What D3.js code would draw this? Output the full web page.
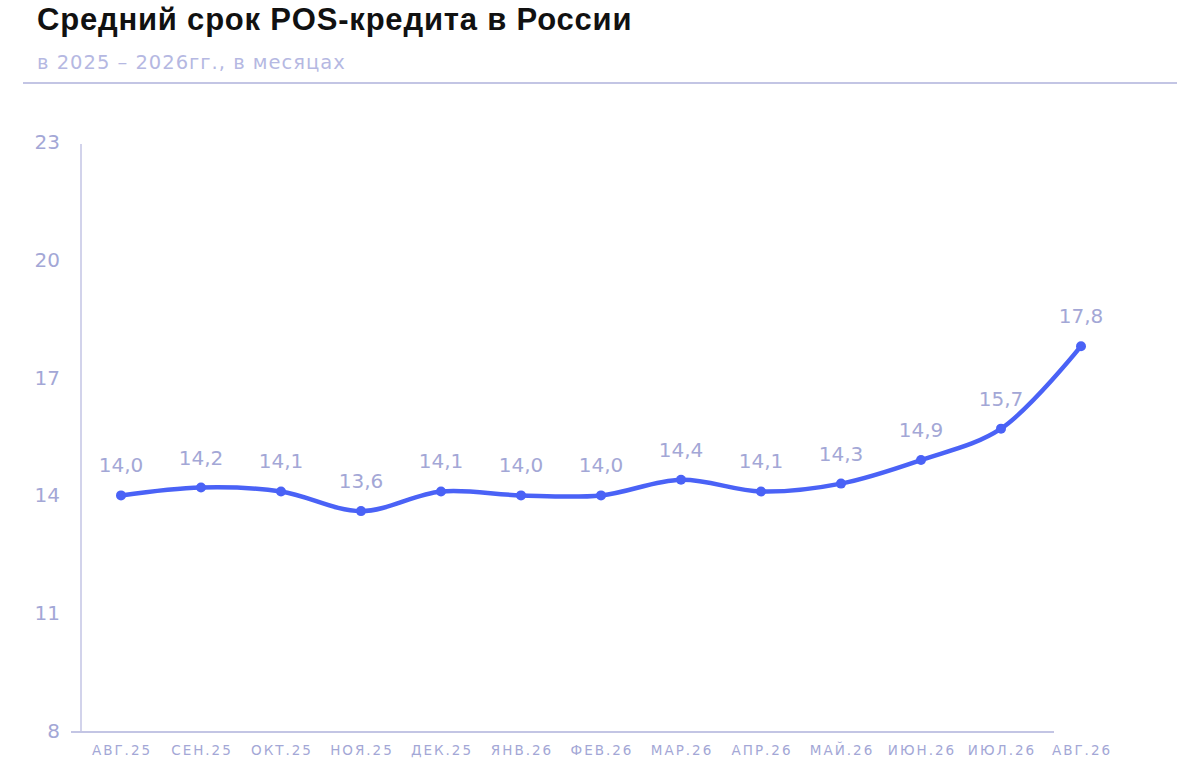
<!DOCTYPE html>
<html>
<head>
<meta charset="utf-8">
<script src="https://cdn.jsdelivr.net/npm/d3@7"></script>
<style>
  body { margin: 0; background: #fff; }
  svg { display: block; }
</style>
</head>
<body>
<script>
const months = ["АВГ.25", "СЕН.25", "ОКТ.25", "НОЯ.25", "ДЕК.25", "ЯНВ.26", "ФЕВ.26",
                "МАР.26", "АПР.26", "МАЙ.26", "ИЮН.26", "ИЮЛ.26", "АВГ.26"];
const termMonths = [14.0, 14.2, 14.1, 13.6, 14.1, 14.0, 14.0, 14.4, 14.1, 14.3, 14.9, 15.7, 17.8];
const yTicks = [8, 11, 14, 17, 20, 23];

const width = 1200, height = 780;
const lav = "#a3a7d6";
const axisCol = "#c3c5e4";
const lineCol = "#4a62f6";
const numFont = "DejaVu Sans, sans-serif";

const svg = d3.select("body").append("svg")
    .attr("width", width)
    .attr("height", height);

// title block
svg.append("text")
    .attr("x", 37).attr("y", 30)
    .attr("font-family", "Liberation Sans, Arial, sans-serif")
    .attr("font-weight", "bold")
    .attr("font-size", 31)
    .attr("letter-spacing", 0.8)
    .attr("fill", "#111")
    .text("Средний срок POS-кредита в России");

svg.append("text")
    .attr("x", 37).attr("y", 69)
    .attr("font-family", numFont)
    .attr("font-size", 19.5)
    .attr("letter-spacing", 1)
    .attr("fill", "#b5b8e2")
    .text("в 2025 – 2026гг., в месяцах");

svg.append("line")
    .attr("x1", 23).attr("x2", 1177)
    .attr("y1", 83).attr("y2", 83)
    .attr("stroke", axisCol)
    .attr("stroke-width", 2);

const x = d3.scalePoint().domain(months).range([121, 1081]);
const y = d3.scaleLinear().domain([8, 23]).range([731, 142]);

// axes lines
svg.append("line")
    .attr("x1", 81).attr("x2", 81)
    .attr("y1", 144).attr("y2", y(8) + 1)
    .attr("stroke", axisCol).attr("stroke-width", 1.5);

svg.append("line")
    .attr("x1", 71).attr("x2", 1054)
    .attr("y1", y(8) + 1).attr("y2", y(8) + 1)
    .attr("stroke", axisCol).attr("stroke-width", 2);

// y tick labels
svg.append("g").selectAll("text")
    .data(yTicks)
    .enter().append("text")
    .attr("x", 60)
    .attr("y", d => y(d))
    .attr("dy", "0.35em")
    .attr("text-anchor", "end")
    .attr("font-family", numFont)
    .attr("font-size", 20)
    .attr("fill", lav)
    .text(d => d);

// x tick labels
svg.append("g").selectAll("text")
    .data(months)
    .enter().append("text")
    .attr("x", d => x(d) + 1)
    .attr("y", 755)
    .attr("text-anchor", "middle")
    .attr("font-family", numFont)
    .attr("font-size", 13.5)
    .attr("letter-spacing", 2)
    .attr("fill", lav)
    .text(d => d);

const pts = months.map((m, i) => ({ m: m, v: termMonths[i] }));

const line = d3.line()
    .x(d => x(d.m))
    .y(d => y(d.v))
    .curve(d3.curveCatmullRom.alpha(0.5));

svg.append("path")
    .datum(pts)
    .attr("d", line)
    .attr("fill", "none")
    .attr("stroke", lineCol)
    .attr("stroke-width", 4.5)
    .attr("stroke-linecap", "round");

svg.append("g").selectAll("circle")
    .data(pts)
    .enter().append("circle")
    .attr("cx", d => x(d.m))
    .attr("cy", d => y(d.v))
    .attr("r", 5)
    .attr("fill", lineCol);

// value labels
svg.append("g").selectAll("text")
    .data(pts)
    .enter().append("text")
    .attr("x", d => x(d.m))
    .attr("y", d => y(d.v) - 23)
    .attr("text-anchor", "middle")
    .attr("font-family", numFont)
    .attr("font-size", 20)
    .attr("fill", lav)
    .text(d => d.v.toFixed(1).replace(".", ","));
</script>
</body>
</html>
